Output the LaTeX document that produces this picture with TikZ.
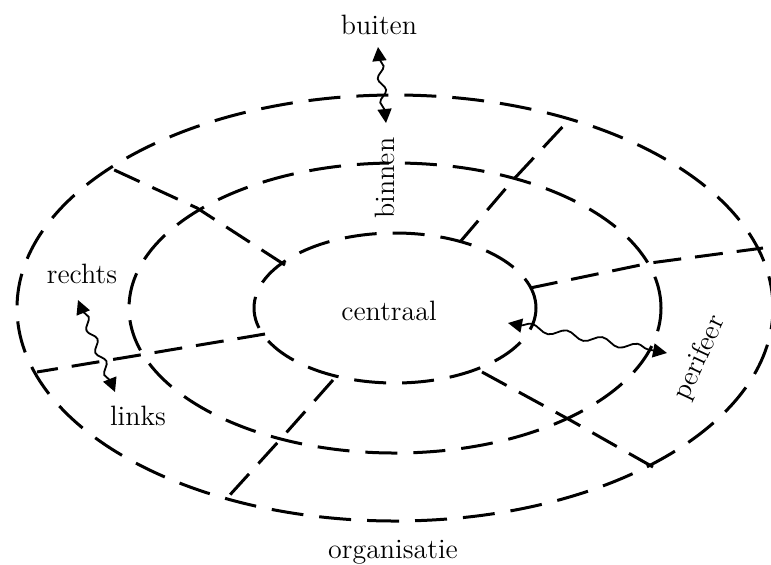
\documentclass[tikz,border=0pt]{standalone}
\usetikzlibrary{arrows.meta,decorations.pathmorphing,positioning}

\begin{document}
\begin{tikzpicture}[x=0.5pt,y=-0.5pt,
    ring/.style={dash pattern=on 16pt off 8pt, line width=1.5pt},
    wall/.style={dash pattern=on 14pt off 7pt, line width=1.5pt, line join=round},
    word/.style={font=\fontsize{14}{16}\selectfont, inner sep=1pt},
    wave/.style={{Triangle[length=7pt,width=7pt]}-{Triangle[length=7pt,width=7pt]},
      line width=0.9pt, decorate,
      decoration={snake, amplitude=1.8pt, segment length=#1, pre length=6pt, post length=6pt}},
    wave/.default=12pt]
  \useasboundingbox (0,0) rectangle (771,564);

  % the three rings
  \coordinate (mid) at (395,308);
  \draw[ring] (mid) ellipse [x radius=189pt, y radius=106.5pt];
  \draw[ring] (mid) ellipse [x radius=133pt, y radius=72.5pt];
  \draw[ring] (mid) ellipse [x radius=70.5pt, y radius=37.5pt];

  % the walls between the parts
  \draw[wall] (285,265) -- (197,208) -- (110,168);
  \draw[wall] (460,242) -- (513,180) -- (567,122);
  \draw[wall] (530,288) -- (650,263) -- (763,248);
  \draw[wall] (482,372) -- (570,420) -- (653,467);
  \draw[wall] (333,380) -- (278,442) -- (228,497);
  \draw[wall] (265,334) -- (140,355) -- (37,372);

  \node[word] (buiten) at (379,25) {buiten};
  \node[word, rotate=90] (binnen) at (385,178) {binnen};
  \node[word] (centraal) at (389,311) {centraal};
  \node[word, rotate=65] (perifeer) at (700,358) {perifeer};
  \node[word] (rechts) at (82,274) {rechts};
  \node[word] (links) at (138,416) {links};
  \node[word] (organisatie) at (393,552) {organisatie};

  \coordinate (outTip) at (378,47);
  \coordinate (inTip) at (386,123);
  \coordinate (rightTip) at (78,300);
  \coordinate (leftTip) at (115,392);
  \coordinate (coreTip) at (508,323);
  \coordinate (edgeTip) at (667,353);

  \draw[wave] (outTip) -- (inTip);
  \draw[wave] (rightTip) -- (leftTip);
  \draw[wave=18pt] (coreTip) -- (edgeTip);
\end{tikzpicture}
\end{document}
